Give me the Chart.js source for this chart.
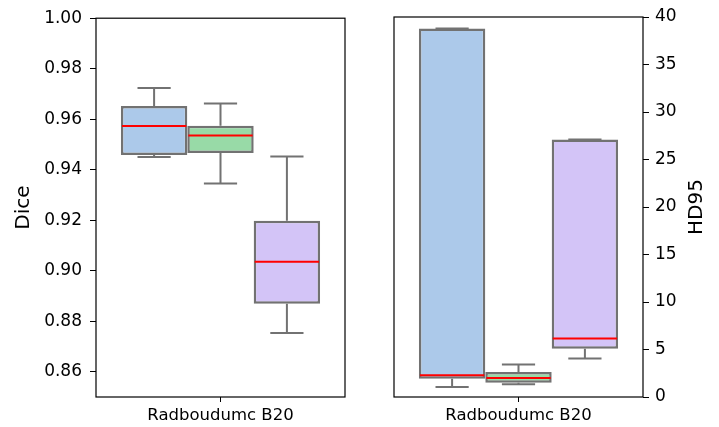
<!DOCTYPE html>
<html>
<head>
<meta charset="utf-8">
<script src="https://cdn.jsdelivr.net/npm/chart.js@4"></script>
<style>
    html, body { margin: 0; padding: 0; background: #fff; }
    #wrap { position: relative; width: 719px; height: 427px; overflow: hidden; }
    canvas { position: absolute; top: 0; }
    #diceChart { left: 0; }
    #hdChart { left: 390px; }
</style>
</head>
<body>
<div id="wrap">
    <canvas id="diceChart" width="350" height="427"></canvas>
    <canvas id="hdChart" width="329" height="427"></canvas>
</div>
<script>
// Box plot data
const categories = ['Radboudumc B20'];
const seriesNames = ['Model 1', 'Model 2', 'Model 3'];

const diceMin    = [0.9450, 0.9345, 0.8753];
const diceQ1     = [0.9458, 0.9466, 0.8869];
const diceMedian = [0.9573, 0.9536, 0.9036];
const diceQ3     = [0.9652, 0.9574, 0.9198];
const diceMax    = [0.9724, 0.9662, 0.9452];
const diceTicks  = [0.86, 0.88, 0.90, 0.92, 0.94, 0.96, 0.98, 1.00];

const hdMin    = [1.05, 1.34, 4.04];
const hdQ1     = [1.93, 1.51, 5.09];
const hdMedian = [2.28, 2.00, 6.15];
const hdQ3     = [38.8, 2.63, 27.1];
const hdMax    = [38.8, 3.41, 27.1];
const hdTicks  = [0, 5, 10, 15, 20, 25, 30, 35, 40];

const BOX_COLORS = ['#acc9ea', '#98daa7', '#d3c4f7'];
const EDGE = '#727272';
const FONT = 'DejaVu Sans';

// whiskers, medians, frame and axis title drawn on top of the boxes
function boxPlugin(stats, title, titleX) {
    return {
        id: 'boxExtras',
        afterDatasetsDraw(chart) {
            const ctx = chart.ctx;
            const y = chart.scales.y;
            ctx.save();
            chart.data.datasets.forEach((ds, i) => {
                const bar = chart.getDatasetMeta(i).data[0];
                const x = bar.x, w = bar.width;
                const yQ1 = y.getPixelForValue(stats.q1[i]);
                const yQ3 = y.getPixelForValue(stats.q3[i]);
                const yMin = y.getPixelForValue(stats.min[i]);
                const yMax = y.getPixelForValue(stats.max[i]);
                const yMed = y.getPixelForValue(stats.median[i]);

                ctx.strokeStyle = EDGE;
                ctx.lineWidth = 2;
                ctx.beginPath();
                ctx.moveTo(x, yQ3); ctx.lineTo(x, yMax);
                ctx.moveTo(x, yQ1); ctx.lineTo(x, yMin);
                ctx.moveTo(x - w / 4, yMax); ctx.lineTo(x + w / 4, yMax);
                ctx.moveTo(x - w / 4, yMin); ctx.lineTo(x + w / 4, yMin);
                ctx.stroke();

                ctx.strokeStyle = '#ff0000';
                ctx.beginPath();
                ctx.moveTo(x - w / 2 + 1, yMed); ctx.lineTo(x + w / 2 - 1, yMed);
                ctx.stroke();
            });

            const a = chart.chartArea;
            ctx.strokeStyle = '#000';
            ctx.lineWidth = 1.2;
            ctx.strokeRect(a.left, a.top, a.right - a.left, a.bottom - a.top);

            ctx.fillStyle = '#000';
            ctx.font = '20px "' + FONT + '"';
            ctx.textAlign = 'center';
            ctx.textBaseline = 'middle';
            ctx.translate(titleX, (a.top + a.bottom) / 2);
            ctx.rotate(-Math.PI / 2);
            ctx.fillText(title, 0, 0);
            ctx.restore();
        },
    };
}

function makeDatasets(q1, q3) {
    return seriesNames.map((name, i) => ({
        label: name,
        data: [[q1[i], q3[i]]],
        backgroundColor: BOX_COLORS[i],
        borderColor: EDGE,
        borderWidth: 2.5,
        borderSkipped: false,
        categoryPercentage: 0.8,
        barPercentage: 1.0,
    }));
}

function makeChart(canvasId, opts) {
    return new Chart(document.getElementById(canvasId), {
        type: 'bar',
        data: {
            labels: categories,
            datasets: makeDatasets(opts.q1, opts.q3),
        },
        options: {
            responsive: false,
            animation: false,
            devicePixelRatio: 1,
            layout: { padding: opts.padding },
            plugins: {
                legend: { display: false },
                tooltip: { enabled: false },
            },
            scales: {
                x: {
                    offset: true,
                    border: { display: false },
                    grid: {
                        offset: false,
                        drawOnChartArea: false,
                        color: '#000',
                        tickLength: 5,
                    },
                    ticks: {
                        color: '#000',
                        padding: 4,
                        font: { family: FONT, size: 16.5 },
                        maxRotation: 0,
                    },
                    afterFit(scale) { scale.height = 30; },
                },
                y: {
                    position: opts.position,
                    min: opts.min,
                    max: opts.max,
                    border: { display: false },
                    grid: {
                        drawOnChartArea: false,
                        color: '#000',
                        tickLength: 6,
                    },
                    ticks: {
                        color: '#000',
                        padding: opts.tickPad,
                        font: { family: FONT, size: 17 },
                        callback: opts.format,
                    },
                    afterBuildTicks(scale) {
                        scale.ticks = opts.ticks.map(v => ({ value: v }));
                    },
                    afterFit(scale) { scale.width = opts.axisWidth; },
                },
            },
        },
        plugins: [boxPlugin(opts.stats, opts.title, opts.titleX)],
    });
}

makeChart('diceChart', {
    q1: diceQ1, q3: diceQ3,
    stats: { min: diceMin, q1: diceQ1, median: diceMedian, q3: diceQ3, max: diceMax },
    min: 0.85, max: 1.00, ticks: diceTicks,
    format: v => v.toFixed(2),
    position: 'left', axisWidth: 96, tickPad: 8,
    padding: { top: 17, right: 5, left: 0, bottom: 0 },
    title: 'Dice', titleX: 24,
});

makeChart('hdChart', {
    q1: hdQ1, q3: hdQ3,
    stats: { min: hdMin, q1: hdQ1, median: hdMedian, q3: hdQ3, max: hdMax },
    min: 0, max: 40, ticks: hdTicks,
    format: v => String(v),
    position: 'right', axisWidth: 76, tickPad: 6,
    padding: { top: 17, right: 0, left: 4, bottom: 0 },
    title: 'HD95', titleX: 307,
});
</script>
</body>
</html>
